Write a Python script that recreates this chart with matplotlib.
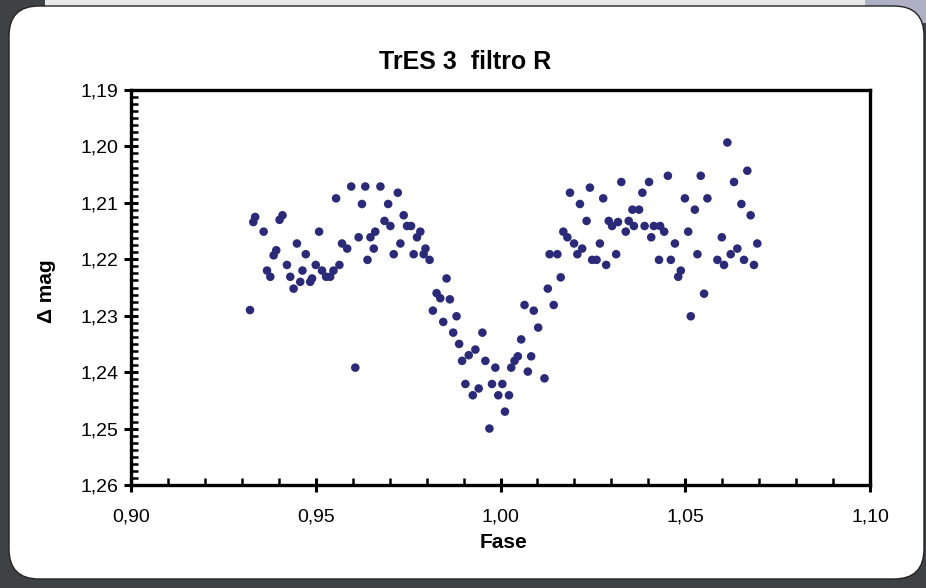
import matplotlib.pyplot as plt
from matplotlib.patches import FancyBboxPatch, Rectangle
from matplotlib.ticker import MultipleLocator, FuncFormatter


# phase / delta mag
fase = [
    0.9322, 0.9331, 0.9336, 0.9359, 0.9368, 0.9377, 0.9386, 0.9393, 0.9402, 0.9410,
    0.9422, 0.9431, 0.9440, 0.9449, 0.9458, 0.9464, 0.9473, 0.9485, 0.9490, 0.9500,
    0.9509, 0.9517, 0.9528, 0.9539, 0.9548, 0.9555, 0.9564, 0.9571, 0.9585, 0.9596,
    0.9607, 0.9616, 0.9625, 0.9634, 0.9640, 0.9648, 0.9657, 0.9661, 0.9675, 0.9686,
    0.9696, 0.9702, 0.9711, 0.9722, 0.9729, 0.9738, 0.9747, 0.9758, 0.9765, 0.9774,
    0.9783, 0.9792, 0.9797, 0.9808, 0.9817, 0.9827, 0.9837, 0.9845, 0.9854, 0.9863,
    0.9872, 0.9881, 0.9888, 0.9896, 0.9905, 0.9914, 0.9925, 0.9932, 0.9941, 0.9951,
    0.9959, 0.9970, 0.9977, 0.9986, 0.9994, 1.0005, 1.0012, 1.0023, 1.0029, 1.0038,
    1.0047, 1.0056, 1.0065, 1.0074, 1.0083, 1.0090, 1.0102, 1.0119, 1.0128, 1.0133,
    1.0144, 1.0154, 1.0163, 1.0170, 1.0181, 1.0188, 1.0199, 1.0208, 1.0215, 1.0221,
    1.0233, 1.0242, 1.0248, 1.0260, 1.0269, 1.0278, 1.0286, 1.0293, 1.0302, 1.0313,
    1.0318, 1.0327, 1.0339, 1.0347, 1.0357, 1.0361, 1.0375, 1.0384, 1.0390, 1.0402,
    1.0408, 1.0415, 1.0429, 1.0432, 1.0443, 1.0453, 1.0461, 1.0472, 1.0481, 1.0488,
    1.0499, 1.0508, 1.0515, 1.0526, 1.0533, 1.0542, 1.0551, 1.0560, 1.0587, 1.0599,
    1.0605, 1.0614, 1.0623, 1.0632, 1.0641, 1.0652, 1.0659, 1.0668, 1.0677, 1.0686,
    1.0695,
]
dmag = [
    1.2290, 1.2134, 1.2125, 1.2151, 1.2220, 1.2231, 1.2193, 1.2184, 1.2130, 1.2122,
    1.2210, 1.2231, 1.2252, 1.2172, 1.2240, 1.2220, 1.2191, 1.2240, 1.2234, 1.2210,
    1.2151, 1.2220, 1.2231, 1.2231, 1.2220, 1.2092, 1.2210, 1.2172, 1.2181, 1.2071,
    1.2392, 1.2161, 1.2102, 1.2071, 1.2201, 1.2161, 1.2181, 1.2151, 1.2071, 1.2132,
    1.2102, 1.2141, 1.2191, 1.2082, 1.2172, 1.2122, 1.2141, 1.2141, 1.2191, 1.2161,
    1.2151, 1.2191, 1.2181, 1.2201, 1.2291, 1.2260, 1.2269, 1.2311, 1.2234, 1.2271,
    1.2330, 1.2301, 1.2350, 1.2380, 1.2421, 1.2370, 1.2441, 1.2360, 1.2429, 1.2330,
    1.2380, 1.2500, 1.2421, 1.2392, 1.2441, 1.2421, 1.2470, 1.2441, 1.2392, 1.2380,
    1.2372, 1.2342, 1.2281, 1.2399, 1.2372, 1.2291, 1.2321, 1.2411, 1.2252, 1.2191,
    1.2281, 1.2191, 1.2232, 1.2151, 1.2161, 1.2082, 1.2172, 1.2191, 1.2102, 1.2181,
    1.2132, 1.2073, 1.2201, 1.2201, 1.2172, 1.2092, 1.2210, 1.2132, 1.2141, 1.2191,
    1.2134, 1.2063, 1.2151, 1.2132, 1.2112, 1.2141, 1.2112, 1.2082, 1.2141, 1.2063,
    1.2161, 1.2141, 1.2201, 1.2141, 1.2151, 1.2052, 1.2201, 1.2172, 1.2231, 1.2220,
    1.2092, 1.2151, 1.2301, 1.2112, 1.2191, 1.2052, 1.2261, 1.2092, 1.2201, 1.2161,
    1.2210, 1.1993, 1.2191, 1.2063, 1.2181, 1.2102, 1.2201, 1.2043, 1.2122, 1.2210,
    1.2172,
]

x_ticks = [0.90, 0.95, 1.00, 1.05, 1.10]
y_ticks = [1.19, 1.20, 1.21, 1.22, 1.23, 1.24, 1.25, 1.26]

FONT = ["Liberation Sans", "DejaVu Sans"]


def comma(v, _pos):
    return f"{v:.2f}".replace(".", ",")


fig = plt.figure(figsize=(9.26, 5.88), dpi=100, facecolor="#3f4245")

# page background: top strip and the white rounded panel (display pixels)
fig.patches.append(Rectangle((45, 580), 820, 10, transform=None,
                             facecolor="#e9e9ea", edgecolor="none", zorder=0))
fig.patches.append(Rectangle((865, 565), 70, 30, transform=None,
                             facecolor="#aeb1c6", edgecolor="none", zorder=0))
fig.patches.append(FancyBboxPatch((9, 9), 915, 573, transform=None,
                                  boxstyle="round,pad=0,rounding_size=30",
                                  facecolor="white", edgecolor="#222222",
                                  linewidth=1, zorder=1))

ax = fig.add_axes([0.1415, 0.1752, 0.7980, 0.6717])
ax.set_zorder(2)
ax.scatter(fase, dmag, s=38, color="#2a2a78", edgecolors="none", zorder=3)

ax.set_xlim(0.90, 1.10)
ax.set_ylim(1.26, 1.19)
ax.set_xticks(x_ticks)
ax.set_yticks(y_ticks)
ax.xaxis.set_minor_locator(MultipleLocator(0.01))
ax.yaxis.set_minor_locator(MultipleLocator(0.00125))
ax.xaxis.set_major_formatter(FuncFormatter(comma))
ax.yaxis.set_major_formatter(FuncFormatter(comma))

for side in ["left", "right", "top", "bottom"]:
    ax.spines[side].set_linewidth(2.4)
ax.tick_params(which="major", direction="inout", length=10, width=2.2,
               labelsize=14, top=False, right=False)
ax.tick_params(axis="x", which="major", pad=12)
ax.tick_params(axis="y", which="major", pad=4)
ax.tick_params(which="minor", direction="in", length=5, width=1.8,
               top=False, right=False)
for lbl in ax.get_xticklabels() + ax.get_yticklabels():
    lbl.set_family(FONT)

fig.text(465 / 926, 1 - 62 / 588, "TrES 3  filtro R", family=FONT, fontsize=18,
         fontweight="bold", ha="center", va="center")
fig.text(503 / 926, 1 - 543 / 588, "Fase", family=FONT, fontsize=15,
         fontweight="bold", ha="center", va="center")
fig.text(47 / 926, 1 - 291 / 588, "Δ mag", family=FONT, fontsize=15,
         fontweight="bold", ha="center", va="center", rotation=90)

fig.savefig("out.png", dpi=100, facecolor=fig.get_facecolor())
